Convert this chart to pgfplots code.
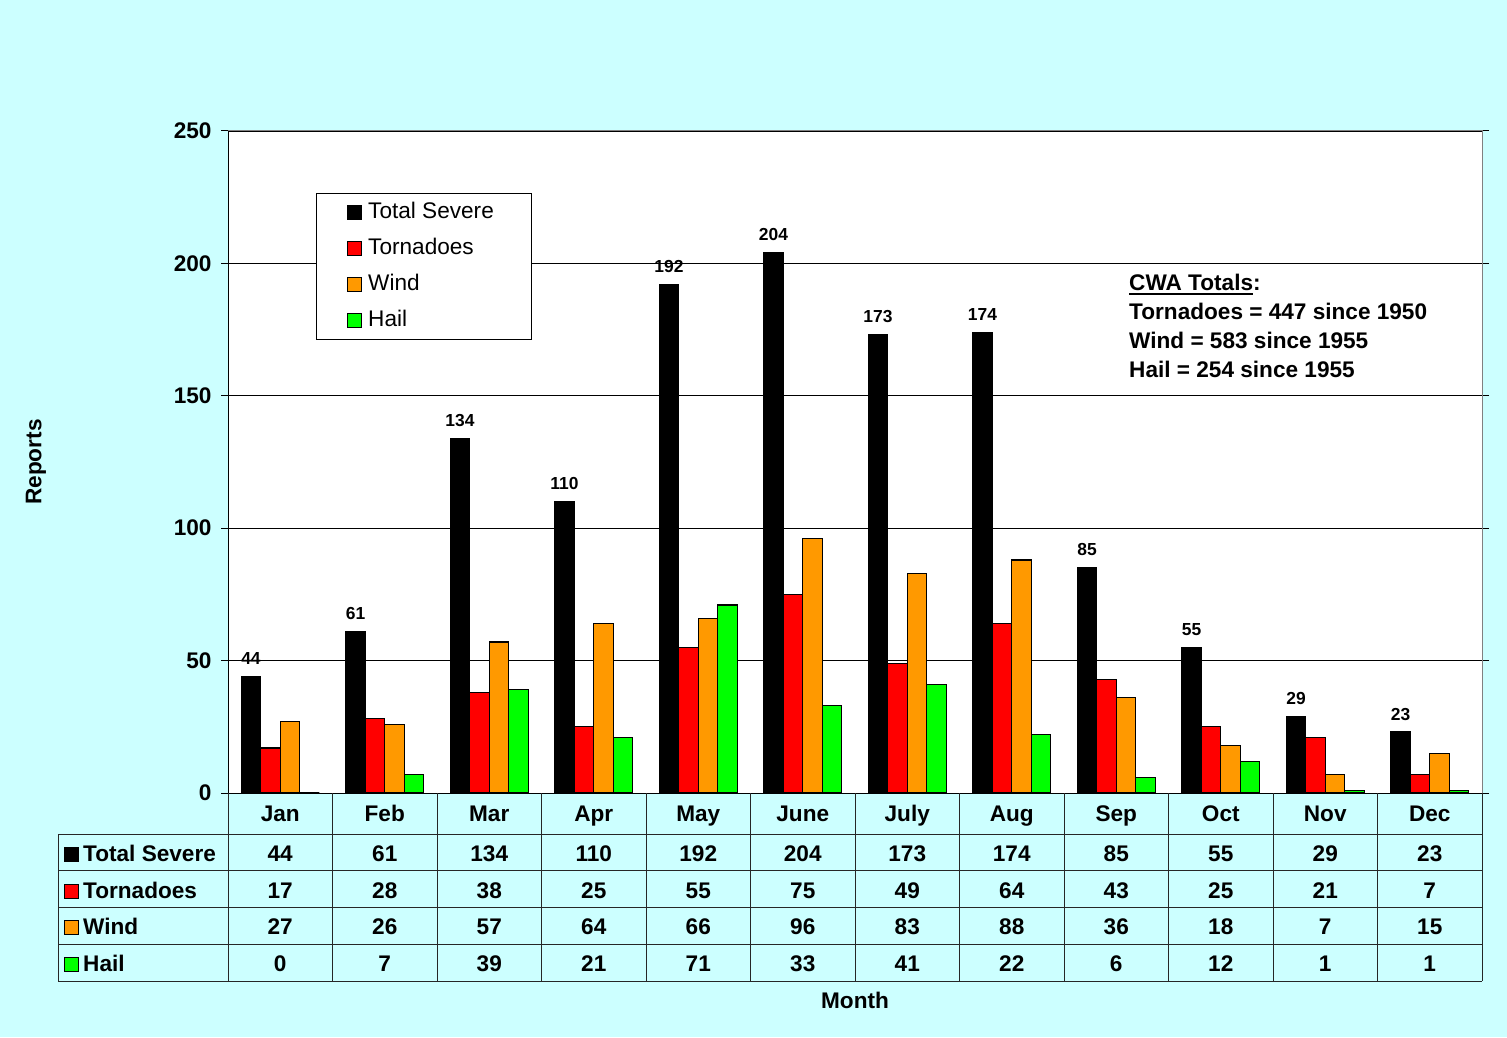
\documentclass[border=0pt]{standalone}
\usepackage{pgfplots}
\usepackage{pgfplotstable}
\pgfplotsset{compat=1.18}
\usepackage{fontspec}
\setmainfont{Liberation Sans}
\definecolor{bgcyan}{RGB}{204,255,255}
\definecolor{torred}{RGB}{255,0,0}
\definecolor{windor}{RGB}{255,153,0}
\definecolor{hailgr}{RGB}{0,255,0}
\definecolor{framegray}{RGB}{128,128,128}
\newcommand\fnt{\fontsize{22.6}{27}\selectfont}
\newcommand\fntb{\fontsize{22.6}{27}\selectfont\bfseries}

\pgfplotstableread{
x month total tor wind hail
0 Jan 44 17 27 0
1 Feb 61 28 26 7
2 Mar 134 38 57 39
3 Apr 110 25 64 21
4 May 192 55 66 71
5 June 204 75 96 33
6 July 173 49 83 41
7 Aug 174 64 88 22
8 Sep 85 43 36 6
9 Oct 55 25 18 12
10 Nov 29 21 7 1
11 Dec 23 7 15 1
}\data

\begin{document}
\begin{tikzpicture}[x=1pt,y=1pt]
\fill[bgcyan] (0,0) rectangle (1507,1037);
\useasboundingbox (0,0) rectangle (1507,1037);
\begin{axis}[
 at={(228pt,244pt)}, anchor=south west,
 scale only axis, width=1254pt, height=662pt,
 xmin=-0.5, xmax=11.5, ymin=0, ymax=250,
 ybar=0pt, bar width=19.5pt,
 axis background/.style={fill=white},
 axis line style={framegray, line width=1pt},
 ytick={0,50,...,250},
 xtick={0,...,11},
 xticklabels from table={\data}{month},
 x tick style={draw=none},
 y tick style={black, line width=1pt},
 tick align=outside, major tick length=7pt,
 ymajorgrids, major grid style={black, line width=0.8pt},
 tick label style={font=\fntb},
 /pgf/number format/assume math mode=true,
 xticklabel style={anchor=base, yshift=-21pt},
 yticklabel style={xshift=-6pt},
 legend cell align=left,
 legend style={at={(0.0702,0.9063)}, anchor=north west, draw=black, fill=white,
   font=\fnt, inner xsep=31pt, inner ysep=1pt, row sep=0pt,
   nodes={text height=16.5pt, text depth=3.5pt, inner ysep=8pt, inner xsep=6pt}},
 legend image code/.code={\draw[#1, line width=1pt] (0pt,-7pt) rectangle (14pt,7pt);},
]
\addplot[fill=black, draw=black, line width=1.2pt, nodes near coords,
  every node near coord/.append style={font=\fontsize{17.4}{20}\selectfont\bfseries, anchor=base, yshift=12pt, black}]
  table[x=x,y=total]{\data};
\addlegendentry{Total Severe}
\addplot[fill=torred, draw=black, line width=1.2pt] table[x=x,y=tor]{\data};
\addlegendentry{Tornadoes}
\addplot[fill=windor, draw=black, line width=1.2pt] table[x=x,y=wind]{\data};
\addlegendentry{Wind}
\addplot[fill=hailgr, draw=black, line width=1.2pt] table[x=x,y=hail]{\data};
\addlegendentry{Hail}
\draw[black, line width=1pt] (rel axis cs:0,1) -- (rel axis cs:0,0) -- (rel axis cs:1,0);
\end{axis}
% data table under the axis
\begin{scope}[line width=1pt, draw=black!85]
\foreach \yy in {203,167,130,93,56} \draw (58,\yy) -- (1482,\yy);
\draw (58,203) -- (58,56);
\foreach \k in {0,...,12} \draw ({228+104.5*\k},244) -- ({228+104.5*\k},56);
\end{scope}
\foreach \col/\yb/\clr/\lab in {total/176/black/Total Severe, tor/139/torred/Tornadoes, wind/103/windor/Wind, hail/66/hailgr/Hail} {
  \filldraw[fill=\clr, draw=black, line width=1pt] (64,\yb) rectangle (78,\yb+14);
  \node[anchor=base west, font=\fntb, inner sep=0pt] at (83,\yb) {\lab};
  \foreach \k in {0,...,11} {
    \pgfplotstablegetelem{\k}{\col}\of\data
    \node[anchor=base, font=\fntb, inner sep=0pt] at ({280.25+104.5*\k},\yb) {\pgfplotsretval};
  }
}
% axis titles
\node[rotate=90, font=\fntb] at (36,575) {Reports};
\node[font=\fntb] at (855,37) {Month};
% CWA totals
\node[anchor=base west, font=\fntb, inner sep=0pt] at (1129,746) {\setbox0\hbox{CWA Totals}\rlap{\rule[-4.5pt]{\wd0}{2pt}}\box0:};
\node[anchor=base west, font=\fntb, inner sep=0pt] at (1129,717) {Tornadoes = 447 since 1950};
\node[anchor=base west, font=\fntb, inner sep=0pt] at (1129,688) {Wind = 583 since 1955};
\node[anchor=base west, font=\fntb, inner sep=0pt] at (1129,659) {Hail = 254 since 1955};
\end{tikzpicture}
\end{document}
